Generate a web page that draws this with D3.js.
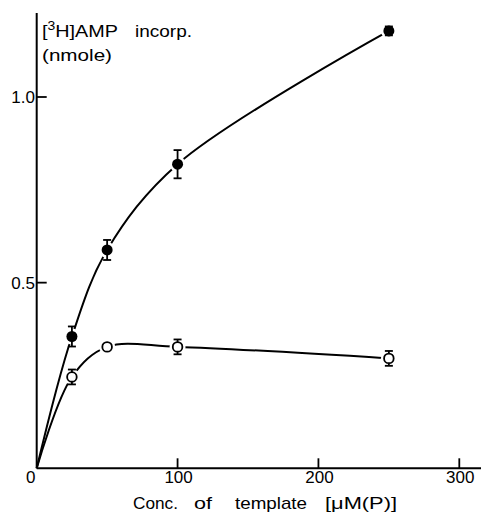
<!DOCTYPE html>
<html>
<head>
<meta charset="utf-8">
<script src="https://cdn.jsdelivr.net/npm/d3@7.9.0/dist/d3.min.js"></script>
<style>
  body { margin: 0; background: #fff; }
  svg { display: block; }
  text { font-family: "Liberation Sans", Arial, sans-serif; fill: #000; }
</style>
</head>
<body>
<svg id="chart" width="481" height="515"></svg>
<script>
// template concentrations, uM (P)
const conc = [25, 50, 100, 250];
// [3H]AMP incorporated, nmole
const filledVals = [0.355, 0.588, 0.819, 1.178];
const filledErr = [0.027, 0.027, 0.038, 0.012];
const openVals = [0.246, 0.327, 0.327, 0.296];
const openErr = [0.02, 0.008, 0.02, 0.02];
const xTicks = [0, 100, 200, 300];
const yTicks = [0.5, 1.0];

const svg = d3.select("#chart");

const x = d3.scaleLinear().domain([0, 300]).range([36.7, 459.3]);
const y = d3.scaleLinear().domain([0, 1.0]).range([468.3, 97]);

// axes lines
const axisG = svg.append("g");
axisG.append("line")
  .attr("x1", x(0)).attr("x2", 481)
  .attr("y1", y(0)).attr("y2", y(0))
  .attr("stroke", "#000").attr("stroke-width", 2);
axisG.append("line")
  .attr("x1", x(0)).attr("x2", x(0))
  .attr("y1", y(0)).attr("y2", 13)
  .attr("stroke", "#000").attr("stroke-width", 2);

// x ticks point inward (up)
xTicks.forEach(t => {
  if (t > 0) {
    axisG.append("line")
      .attr("x1", x(t)).attr("x2", x(t))
      .attr("y1", y(0)).attr("y2", y(0) - 10)
      .attr("stroke", "#000").attr("stroke-width", 1.8);
  }
  axisG.append("text")
    .attr("x", t === 0 ? x(t) - 6 : x(t) + 1)
    .attr("y", 483)
    .attr("text-anchor", "middle")
    .attr("font-size", 17)
    .text(t);
});

// y ticks point inward (right)
yTicks.forEach(t => {
  axisG.append("line")
    .attr("x1", x(0)).attr("x2", x(0) + 10)
    .attr("y1", y(t)).attr("y2", y(t))
    .attr("stroke", "#000").attr("stroke-width", 1.8);
  axisG.append("text")
    .attr("x", 35)
    .attr("y", y(t) + 6)
    .attr("text-anchor", "end")
    .attr("font-size", 17)
    .text(t.toFixed(1));
});

// curves, both start at origin
const line = d3.line()
  .x(d => x(d[0]))
  .y(d => y(d[1]))
  .curve(d3.curveCatmullRom.alpha(0.5));

const filledPts = [[0, 0]].concat(conc.map((c, i) => [c, filledVals[i]]));
const openPts = [[0, 0]].concat(conc.map((c, i) => [c, openVals[i]]));

[filledPts, openPts].forEach(pts => {
  svg.append("path")
    .attr("d", line(pts))
    .attr("fill", "none")
    .attr("stroke", "#000")
    .attr("stroke-width", 2);
});

// markers with error bars
function drawSeries(vals, errs, filled) {
  const g = svg.append("g");
  conc.forEach((c, i) => {
    const cx = x(c), cy = y(vals[i]);
    // white gap around marker
    g.append("circle")
      .attr("cx", cx).attr("cy", cy).attr("r", 8)
      .attr("fill", "#fff");
    const top = y(vals[i] + errs[i]), bot = y(vals[i] - errs[i]);
    g.append("line")
      .attr("x1", cx).attr("x2", cx).attr("y1", top).attr("y2", bot)
      .attr("stroke", "#000").attr("stroke-width", 1.8);
    [top, bot].forEach(yy => {
      g.append("line")
        .attr("x1", cx - 4).attr("x2", cx + 4).attr("y1", yy).attr("y2", yy)
        .attr("stroke", "#000").attr("stroke-width", 1.8);
    });
    g.append("circle")
      .attr("cx", cx).attr("cy", cy).attr("r", filled ? 5.5 : 4.8)
      .attr("fill", filled ? "#000" : "#fff")
      .attr("stroke", "#000")
      .attr("stroke-width", filled ? 0 : 1.8);
  });
}
drawSeries(filledVals, filledErr, true);
drawSeries(openVals, openErr, false);

// place a word, widened to the size seen in the figure (its face is broader)
function word(x0, y0, width, str) {
  return svg.append("text")
    .attr("x", x0).attr("y", y0)
    .attr("font-size", 17)
    .attr("textLength", width)
    .attr("lengthAdjust", "spacingAndGlyphs")
    .text(str);
}

// y axis title
const yt = word(42, 37, 76, "");
yt.append("tspan").text("[");
yt.append("tspan").attr("font-size", 12).attr("dy", -7).text("3");
yt.append("tspan").attr("dy", 7).text("H]AMP");
word(135, 37, 57, "incorp.");
word(42, 61, 70, "(nmole)");

// x axis title
word(133, 509, 45, "Conc.");
word(194, 509, 18, "of");
word(235, 509, 72, "template");
word(325, 509, 72, "[\u03bcM(P)]");
</script>
</body>
</html>
